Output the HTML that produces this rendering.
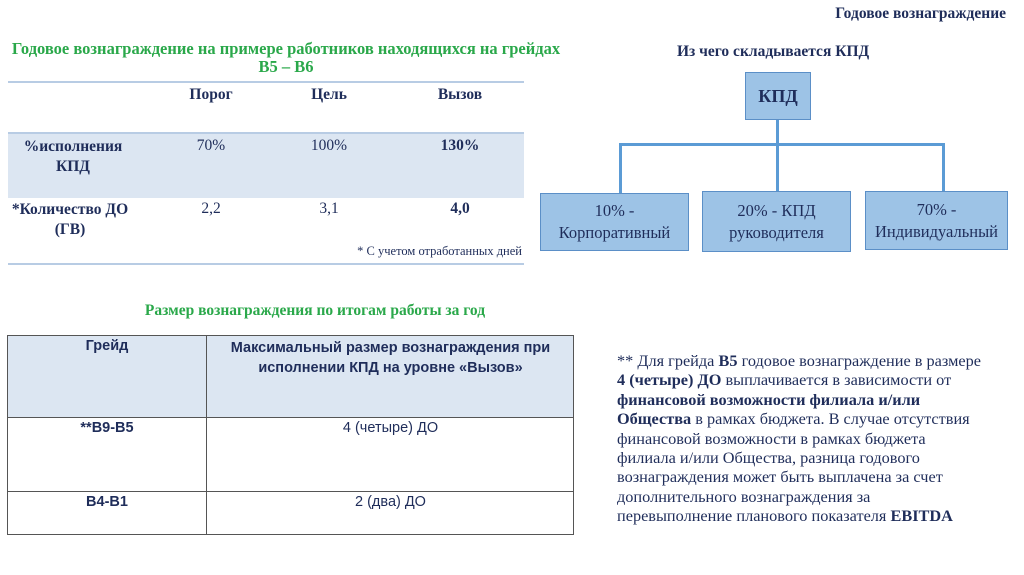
<!DOCTYPE html><html><head><meta charset="utf-8"><style>
body{margin:0;width:1024px;height:575px;background:#fff;position:relative;overflow:hidden;font-family:"Liberation Serif","DejaVu Serif",serif;color:#1f2d5a}
.a{position:absolute}
.c{text-align:center}
.b{font-weight:bold}
.g{color:#2aa84a}
.s{font-family:"Liberation Sans","DejaVu Sans",sans-serif}
.box{position:absolute;background:#9dc3e6;border:1px solid #5b8fc7;box-sizing:border-box;display:flex;align-items:center;justify-content:center;text-align:center;font-size:16.5px;line-height:22px}
.ln{position:absolute;background:#5b9bd5}
</style></head><body>
<div class="a b" style="right:18px;top:5px;font-size:15.5px">Годовое вознаграждение</div>
<div class="a c b g" style="left:0;width:572px;top:40px;font-size:16.5px;line-height:18px">Годовое вознаграждение на примере работников находящихся на грейдах<br>В5 – В6</div>
<div class="a" style="left:8px;top:81px;width:516px;height:2px;background:#b8cce4"></div>
<div class="a" style="left:8px;top:132px;width:516px;height:64px;background:#dce6f2;border-top:2px solid #b8cce4"></div>
<div class="a" style="left:8px;top:263px;width:516px;height:2px;background:#b8cce4"></div>
<div class="a c b" style="left:161px;width:100px;top:86px;font-size:15.5px">Порог</div>
<div class="a c b" style="left:279px;width:100px;top:86px;font-size:15.5px">Цель</div>
<div class="a c b" style="left:410px;width:100px;top:86px;font-size:15.5px">Вызов</div>
<div class="a c b" style="left:3px;width:140px;top:137px;font-size:15.5px;line-height:20px">%исполнения<br>КПД</div>
<div class="a c" style="left:161px;width:100px;top:137px;font-size:15.5px">70%</div>
<div class="a c" style="left:279px;width:100px;top:137px;font-size:15.5px">100%</div>
<div class="a c b" style="left:410px;width:100px;top:137px;font-size:15.5px">130%</div>
<div class="a c b" style="left:0px;width:140px;top:200px;font-size:15.5px;line-height:20px">*Количество ДО<br>(ГВ)</div>
<div class="a c" style="left:161px;width:100px;top:200px;font-size:15.5px">2,2</div>
<div class="a c" style="left:279px;width:100px;top:200px;font-size:15.5px">3,1</div>
<div class="a c b" style="left:410px;width:100px;top:200px;font-size:15.5px">4,0</div>
<div class="a" style="left:300px;width:222px;top:244px;font-size:12.5px;text-align:right">* С учетом отработанных дней</div>

<div class="a b" style="left:677px;top:43px;font-size:15.5px">Из чего складывается КПД</div>
<div class="box b" style="left:745px;top:72px;width:66px;height:48px;font-size:18px">КПД</div>
<div class="ln" style="left:776px;top:120px;width:3px;height:72px"></div>
<div class="ln" style="left:619px;top:143px;width:326px;height:3px"></div>
<div class="ln" style="left:619px;top:143px;width:3px;height:50px"></div>
<div class="ln" style="left:942px;top:143px;width:3px;height:50px"></div>
<div class="box" style="left:540px;top:193px;width:149px;height:58px">10% -<br>Корпоративный</div>
<div class="box" style="left:702px;top:191px;width:149px;height:61px">20% - КПД<br>руководителя</div>
<div class="box" style="left:865px;top:191px;width:143px;height:59px">70% -<br>Индивидуальный</div>

<div class="a c b g" style="left:0;width:630px;top:302px;font-size:15.5px">Размер вознаграждения по итогам работы за год</div>
<div class="a" style="left:7px;top:335px;width:567px;height:200px;border:1px solid #555;box-sizing:border-box"></div>
<div class="a" style="left:8px;top:336px;width:565px;height:81px;background:#dce6f2"></div>
<div class="a" style="left:206px;top:335px;width:1px;height:200px;background:#555"></div>
<div class="a" style="left:7px;top:417px;width:567px;height:1px;background:#555"></div>
<div class="a" style="left:7px;top:491px;width:567px;height:1px;background:#555"></div>
<div class="a c b s" style="left:7px;width:200px;top:338px;font-size:14.5px">Грейд</div>
<div class="a c b s" style="left:207px;width:367px;top:338px;font-size:14.5px;line-height:20px">Максимальный размер вознаграждения при<br>исполнении КПД на уровне «Вызов»</div>
<div class="a c b s" style="left:7px;width:200px;top:420px;font-size:14.5px">**В9-В5</div>
<div class="a c s" style="left:207px;width:367px;top:420px;font-size:14.5px">4 (четыре) ДО</div>
<div class="a c b s" style="left:7px;width:200px;top:494px;font-size:14.5px">В4-В1</div>
<div class="a c s" style="left:207px;width:367px;top:494px;font-size:14.5px">2 (два) ДО</div>

<div class="a" style="left:617px;top:351px;width:405px;font-size:16.3px;line-height:19.4px">** Для грейда <b>В5</b> годовое вознаграждение в размере<br><b>4 (четыре) ДО</b> выплачивается в зависимости от<br><b>финансовой возможности филиала и/или<br>Общества</b> в рамках бюджета. В случае отсутствия<br>финансовой возможности в рамках бюджета<br>филиала и/или Общества, разница годового<br>вознаграждения может быть выплачена за счет<br>дополнительного вознаграждения за<br>перевыполнение планового показателя <b>EBITDA</b></div>
</body></html>
